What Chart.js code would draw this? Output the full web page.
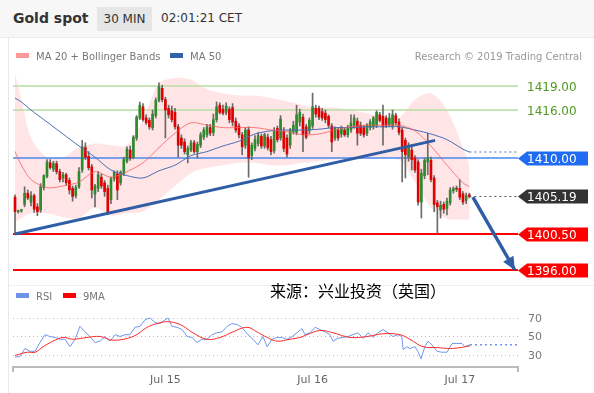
<!DOCTYPE html>
<html>
<head>
<meta charset="utf-8">
<script src="https://cdn.jsdelivr.net/npm/chart.js@4.4.1/dist/chart.umd.min.js"></script>
<style>
  body { margin: 0; width: 594px; height: 393px; overflow: hidden; background: #fff; position: relative; font-family: "DejaVu Sans", sans-serif; }
  #head { position: absolute; left: 0; top: 0; width: 594px; height: 37px; background: #f7f7f7; border-bottom: 1px solid #ececec; }
  #title { position: absolute; left: 13px; top: 10px; font-size: 14px; font-weight: bold; color: #333; }
  #tf { position: absolute; left: 97px; top: 7px; width: 55px; height: 24px; line-height: 24px; text-align: center; background: #e6e6e6; font-size: 12px; color: #333; }
  #clock { position: absolute; left: 161px; top: 11px; font-size: 12px; color: #333; }
  #frame { position: absolute; left: 8px; top: 38px; width: 0; height: 355px; border-left: 1px solid #e8e8e8; }
  #sep { position: absolute; left: 8px; top: 285px; width: 586px; height: 0; border-top: 1px solid #f0f0f0; }
  .leg { position: absolute; font-size: 10px; color: #777; line-height: 12px; }
  .sw { display: inline-block; width: 13px; height: 5px; margin-right: 7px; vertical-align: 2px; }
  #src { position: absolute; left: 270px; top: 280px; font-family: "Noto Sans CJK SC"; font-size: 16px; line-height: 20px; color: #000; }
  canvas { position: absolute; left: 0; }
</style>
</head>
<body>
<div id="head">
  <div id="title">Gold spot</div>
  <div id="tf">30 MIN</div>
  <div id="clock">02:01:21 CET</div>
</div>
<div id="frame"></div>
<div id="sep"></div>
<canvas id="main" width="594" height="245" style="top:40px"></canvas>
<canvas id="rsi" width="594" height="108" style="top:285px"></canvas>
<div class="leg" style="left:16px;top:51px"><span class="sw" style="background:#f99"></span>MA 20 + Bollinger Bands</div>
<div class="leg" style="left:170px;top:51px"><span class="sw" style="background:#3462aa"></span>MA 50</div>
<div class="leg" style="right:12px;top:51px;color:#999">Research © 2019 Trading Central</div>
<div class="leg" style="left:16px;top:291px"><span class="sw" style="background:#6f93ea"></span>RSI</div>
<div class="leg" style="left:63px;top:291px"><span class="sw" style="background:#f00"></span>9MA</div>
<div id="src">来源：兴业投资（英国）</div>
<script>
// 30 min candles, [open, high, low, close]
const ohlc = [
  [1405.1,1405.4,1400.5,1403.3],[1403.3,1403.5,1403.1,1403.4],[1403.4,1403.6,1403.2,1403.5],[1404.2,1406.4,1403.9,1405.6],
  [1405.6,1406.0,1404.8,1405.0],[1404.5,1405.8,1404.0,1405.3],[1405.3,1405.5,1403.2,1403.6],[1403.9,1404.3,1402.8,1403.3],
  [1403.5,1406.8,1403.2,1406.4],[1406.3,1407.9,1406.0,1407.8],[1407.7,1409.8,1407.5,1409.5],[1409.4,1409.8,1408.6,1408.8],
  [1408.6,1409.6,1408.3,1409.3],[1409.3,1409.6,1408.0,1408.3],[1408.3,1408.6,1407.0,1407.3],[1407.5,1408.2,1407.0,1407.9],
  [1407.9,1408.1,1406.6,1406.9],[1407.2,1407.5,1405.5,1406.0],[1406.2,1406.5,1404.6,1405.2],[1405.3,1406.6,1405.0,1406.3],
  [1406.4,1408.8,1406.2,1408.3],[1408.5,1412.2,1408.2,1411.4],[1411.3,1411.9,1409.8,1410.1],[1410.2,1410.8,1408.5,1408.8],
  [1408.9,1409.2,1405.0,1406.0],[1405.5,1406.7,1403.9,1406.5],[1406.2,1408.3,1405.8,1407.9],[1407.6,1408.0,1406.2,1406.5],
  [1406.9,1407.2,1405.2,1405.8],[1406.2,1406.6,1402.9,1403.3],[1404.8,1407.6,1404.3,1407.4],[1407.4,1408.4,1407.1,1408.2],
  [1408.0,1408.4,1404.8,1406.0],[1406.9,1408.4,1406.6,1408.2],[1408.0,1410.1,1407.8,1409.8],[1409.6,1411.4,1409.4,1411.1],
  [1411.0,1411.5,1409.7,1410.0],[1410.1,1412.8,1409.9,1412.6],[1412.5,1415.3,1412.2,1415.1],[1415.0,1417.0,1414.8,1416.6],
  [1416.4,1416.8,1414.6,1414.8],[1415.0,1415.4,1414.2,1414.4],[1414.7,1415.0,1413.6,1413.9],[1413.8,1416.0,1413.5,1415.5],
  [1415.3,1417.5,1415.0,1417.2],[1417.2,1419.4,1417.0,1418.9],[1418.7,1419.1,1417.0,1417.3],[1417.3,1417.6,1412.5,1416.0],
  [1416.2,1416.6,1415.0,1415.4],[1415.9,1416.5,1414.5,1414.8],[1415.7,1416.2,1413.6,1413.9],[1413.9,1414.2,1410.1,1411.6],
  [1412.5,1412.9,1411.2,1411.6],[1412.0,1412.4,1410.5,1410.8],[1410.4,1411.5,1409.4,1411.2],[1411.0,1412.2,1410.8,1411.9],
  [1411.9,1412.2,1410.6,1410.8],[1410.8,1412.0,1410.0,1411.7],[1411.6,1413.2,1411.3,1412.9],[1412.6,1413.8,1412.3,1413.5],
  [1412.9,1414.2,1412.6,1413.9],[1413.8,1414.2,1412.8,1413.1],[1413.2,1415.5,1412.8,1414.8],[1414.8,1417.0,1414.5,1416.4],
  [1416.6,1416.9,1415.5,1415.7],[1416.1,1416.6,1415.4,1415.6],[1415.7,1416.9,1415.4,1416.5],[1416.1,1416.4,1414.4,1414.8],
  [1416.3,1416.8,1414.0,1414.5],[1414.6,1415.0,1413.2,1413.5],[1414.0,1414.3,1412.5,1412.9],[1412.9,1413.2,1410.4,1411.4],
  [1411.6,1413.8,1411.2,1413.5],[1413.5,1413.9,1407.6,1410.0],[1410.3,1411.9,1409.8,1411.6],[1411.2,1412.8,1410.9,1412.3],
  [1411.8,1413.2,1411.5,1412.8],[1412.7,1413.0,1411.2,1411.5],[1411.5,1413.1,1411.2,1412.9],[1412.6,1413.0,1411.0,1411.3],
  [1412.3,1412.7,1410.4,1410.8],[1410.9,1413.8,1410.6,1413.3],[1413.7,1414.0,1412.0,1412.3],[1412.5,1415.3,1412.2,1414.9],
  [1413.3,1413.8,1410.8,1411.2],[1412.5,1412.9,1410.1,1410.5],[1411.6,1413.7,1411.2,1413.5],[1413.3,1414.6,1413.0,1414.1],
  [1413.2,1416.6,1412.9,1415.4],[1414.5,1416.1,1414.0,1415.7],[1415.1,1415.5,1410.8,1412.9],[1413.9,1414.2,1412.4,1412.6],
  [1413.4,1415.0,1413.0,1414.7],[1414.0,1418.1,1413.7,1416.4],[1416.2,1416.6,1415.1,1415.5],[1416.2,1416.5,1414.8,1415.1],
  [1415.8,1416.2,1414.7,1415.0],[1415.6,1416.0,1414.4,1414.8],[1415.2,1415.4,1413.8,1414.1],[1414.0,1414.3,1410.8,1412.0],
  [1412.5,1413.9,1412.2,1413.7],[1413.5,1413.8,1412.2,1412.5],[1413.0,1414.0,1412.6,1413.7],[1413.5,1413.8,1412.7,1412.9],
  [1412.9,1414.1,1412.6,1413.8],[1413.5,1415.4,1413.2,1414.4],[1414.0,1415.4,1413.7,1415.0],[1414.6,1415.0,1411.6,1413.1],
  [1414.1,1414.5,1412.8,1413.1],[1413.8,1414.1,1412.6,1412.9],[1413.1,1414.3,1412.8,1414.1],[1413.8,1414.8,1413.5,1414.5],
  [1413.9,1415.2,1413.6,1415.0],[1414.1,1415.9,1413.8,1415.7],[1415.4,1415.7,1414.5,1414.7],[1415.2,1416.6,1411.6,1413.9],
  [1415.0,1415.3,1413.8,1414.1],[1414.2,1415.6,1413.9,1415.0],[1413.9,1416.0,1413.6,1415.4],[1415.3,1415.6,1414.1,1414.4],
  [1414.5,1414.9,1412.9,1413.2],[1413.5,1413.8,1407.0,1410.8],[1412.2,1412.5,1407.5,1410.4],[1410.1,1411.9,1409.6,1411.6],
  [1411.0,1411.5,1408.5,1409.8],[1410.0,1410.3,1408.2,1408.5],[1409.5,1409.8,1404.1,1404.5],[1404.5,1408.6,1402.5,1408.1],
  [1407.8,1410.0,1407.4,1409.7],[1409.5,1413.1,1407.9,1410.0],[1409.7,1410.1,1407.0,1407.3],[1407.5,1407.8,1403.3,1404.2],
  [1404.4,1404.7,1400.6,1403.9],[1403.5,1404.6,1402.5,1404.1],[1404.2,1404.5,1403.1,1403.6],[1403.7,1405.0,1402.9,1404.6],
  [1404.4,1406.3,1404.1,1406.0],[1405.9,1406.4,1405.6,1406.2],[1406.2,1406.5,1405.8,1406.1],[1406.2,1407.3,1404.8,1405.1],
  [1405.5,1405.8,1404.2,1404.5],[1404.7,1405.6,1404.3,1405.3],[1405.4,1405.6,1405.0,1405.19]
];

// Bollinger bands / moving averages, read at these candle positions
const bandIdx   = [0,2,5,10,15,20,25,30,35,40,45,50,55,60,65,70,75,80,85,90,95,100,105,110,115,120,125,130,135,140,142];
const bandUpper = [1420.6,1417.3,1412.5,1410.1,1410.1,1411.3,1411.8,1411.6,1411.6,1414.8,1419.3,1420.0,1419.8,1418.6,1418.1,1417.8,1417.8,1417.5,1417.1,1416.6,1416.3,1416.3,1416.0,1415.6,1415.1,1415.0,1417.3,1418.1,1416.0,1411.3,1409.1];
const bandLower = [1402.0,1402.5,1403.1,1403.1,1402.6,1402.5,1403.8,1402.8,1403.1,1403.3,1404.8,1406.5,1408.1,1408.8,1409.1,1409.4,1409.4,1409.1,1409.1,1409.4,1409.6,1409.8,1409.8,1409.9,1410.0,1409.8,1407.0,1403.8,1402.4,1402.3,1402.3];
const ma20      = [1410.8,1409.1,1407.3,1406.3,1406.5,1407.0,1408.3,1407.6,1408.3,1409.4,1411.3,1413.1,1414.4,1414.1,1413.8,1413.8,1413.8,1413.5,1413.3,1412.9,1413.0,1413.5,1413.9,1414.1,1414.1,1414.1,1413.4,1411.5,1409.1,1406.9,1406.4];
const ma50      = [1417.5,1417.0,1416.0,1414.5,1413.0,1411.5,1410.1,1408.5,1407.8,1407.5,1408.4,1409.1,1410.3,1410.8,1411.5,1412.1,1413.0,1413.4,1413.5,1413.5,1413.6,1413.8,1413.8,1413.9,1413.9,1413.9,1413.5,1413.0,1412.3,1411.1,1410.75];

const resistance = [1419.00, 1416.00];
const pivot = 1410.00;
const supports = [1400.50, 1396.00];
const lastPrice = 1405.19;

const trendUp = [[0, 1400.5], [131.3, 1412.2]];
const arrowDown = [[143.1, 1405.1], [156.2, 1396.0]];

const dayTicks = [47, 93, 139];
const dayLabels = ['Jul 15', 'Jul 16', 'Jul 17'];

// RSI pane
const rsiIdx = [0,1.6,3.1,4.7,6.3,7.8,9.4,10.9,12.5,14.1,15.6,17.2,18.8,20.3,21.9,23.4,25,26.6,28.1,29.7,31.3,32.8,34.4,35.9,37.5,39.1,40.6,42.2,43.8,45.3,46.9,47.8,49.1,50.6,52.2,53.8,55.3,56.9,58.4,60,61.6,63.1,64.7,66.3,67.8,69.4,70.9,72.8,74.4,75.9,77.5,78.8,80.3,81.9,83.4,85,86.6,88.1,89.7,90.6,92.2,93.8,95.3,96.9,98.4,99.4,100.9,102.5,104.1,105.6,107.2,108.8,110.3,111.9,113.4,115,116.6,118.1,119.7,120.9,121.3,122.5,123.4,125,125.9,126.9,128.1,129.1,130.3,131.9,133.4,135,136.6,138.1,139.7,140.6,142.2];
const rsiVal = [27.6,28.6,37,34,34,43.5,52,50,49,47,47,39,47,61,55,50,43.5,45,50,45,52,50,52,52,60,61,68,70,65,64,68,70,61,60,57.5,50,49,43.5,47,47,52,54,55,61,64,63,60,52,47,41,50,39,47,49,49,47,50,54,58.5,52,54,60,57.5,55,52,45,48,49,50,52,54,48,54,49,54,57.5,54,50,52,50,36,39,37,39,34,26,39,45,41,34,33,33,42.5,42.5,42.5,39,41];
const rsiMaIdx = [0,3.8,6.3,8.8,11.9,15,18.1,22.5,26.6,30.6,36.9,41.3,44.4,47.5,51.6,55.6,60,64.1,68.1,72.5,75.6,78.8,81.9,85.9,89.1,91.3,95.3,99.4,104.7,110,115,120.3,123.4,127.5,131.9,135.9,139.1,142.2];
const rsiMaVal = [29.5,33,33,39,45,49,47,49,50,46,50,60,64,66,63,54,47,49,55,60,55,49,45,47,49,52,56.5,54,49,50,53,52,47,39,38,37,38,40];
const rsiLevels = [30, 50, 70];

const xMin = -0.625, xMax = 157.2;
const lastIdx = ohlc.length - 1;

Chart.defaults.font.family = '"DejaVu Sans", sans-serif';

const pts = (xs, ys) => xs.map((x, i) => ({ x: x, y: ys[i] }));
const flat = (v) => [{ x: xMin, y: v }, { x: xMax, y: v }];
const up = ohlc.map(d => d[3] >= d[0]);

const tags = [
  { v: resistance[0], fg: '#4f9a1e', bg: null },
  { v: resistance[1], fg: '#4f9a1e', bg: null },
  { v: pivot, fg: '#fff', bg: '#1f6cf2' },
  { v: lastPrice, fg: '#fff', bg: '#333' },
  { v: supports[0], fg: '#fff', bg: '#f00' },
  { v: supports[1], fg: '#fff', bg: '#f00' }
];

const tagPlugin = {
  id: 'tags',
  afterDatasetsDraw(chart) {
    const ctx = chart.ctx;
    const y = chart.scales.y;
    const x0 = chart.chartArea.right;
    ctx.save();
    ctx.font = '12px "DejaVu Sans"';
    ctx.textBaseline = 'middle';
    tags.forEach(t => {
      const py = Math.round(y.getPixelForValue(t.v)) + 0.5;
      if (t.bg) {
        ctx.fillStyle = t.bg;
        ctx.beginPath();
        ctx.moveTo(x0, py);
        ctx.lineTo(x0 + 9, py - 7);
        ctx.lineTo(x0 + 70, py - 7);
        ctx.lineTo(x0 + 70, py + 7);
        ctx.lineTo(x0 + 9, py + 7);
        ctx.closePath();
        ctx.fill();
      }
      ctx.fillStyle = t.fg;
      ctx.fillText(t.v.toFixed(2), x0 + 9, py + 1);
    });
    // arrow head on the projected move
    const meta = chart.getDatasetMeta(chart.data.datasets.findIndex(d => d.label === 'arrow'));
    const a = meta.data[0], b = meta.data[1];
    const ang = Math.atan2(b.y - a.y, b.x - a.x);
    ctx.fillStyle = '#2f5da6';
    ctx.beginPath();
    ctx.moveTo(b.x, b.y);
    ctx.lineTo(b.x - 13 * Math.cos(ang) + 6 * Math.sin(ang), b.y - 13 * Math.sin(ang) - 6 * Math.cos(ang));
    ctx.lineTo(b.x - 13 * Math.cos(ang) - 6 * Math.sin(ang), b.y - 13 * Math.sin(ang) + 6 * Math.cos(ang));
    ctx.closePath();
    ctx.fill();
    ctx.restore();
  }
};

// RSI level labels on the right of the lower pane
const rsiLabelPlugin = {
  id: 'rsiLabels',
  afterDraw(chart) {
    const ctx = chart.ctx;
    const y = chart.scales.y;
    ctx.save();
    ctx.font = '11px "DejaVu Sans"';
    ctx.fillStyle = '#777';
    ctx.textBaseline = 'middle';
    rsiLevels.forEach(v => ctx.fillText(String(v), chart.chartArea.right + 10, y.getPixelForValue(v) + 1));
    ctx.restore();
  }
};

const line = (data, color, width, order, extra) => Object.assign({
  type: 'line', data: data, borderColor: color, borderWidth: width,
  pointRadius: 0, fill: false, order: order, tension: 0
}, extra || {});

new Chart(document.getElementById('main'), {
  type: 'bar',
  data: {
    datasets: [
      line(pts(bandIdx, bandUpper), 'rgba(0,0,0,0)', 0, 20, { fill: '+1', backgroundColor: 'rgba(255,40,40,0.12)', tension: 0.3 }),
      line(pts(bandIdx, bandLower), 'rgba(0,0,0,0)', 0, 19, { tension: 0.3 }),
      line(flat(resistance[0]), '#b8dca2', 1.5, 15),
      line(flat(resistance[1]), '#b8dca2', 1.5, 15),
      line(flat(pivot), '#4d86ee', 1.5, 15),
      line(flat(supports[0]), '#f00', 2, 15),
      line(flat(supports[1]), '#f00', 2, 15),
      {
        label: 'wicks', order: 9, grouped: false, barThickness: 1, minBarLength: 1,
        data: ohlc.map((d, i) => ({ x: i, y: [d[2], d[1]] })),
        backgroundColor: '#6a6a6a'
      },
      {
        label: 'bodies', order: 8, grouped: false, barThickness: 2, minBarLength: 1,
        data: ohlc.map((d, i) => ({ x: i, y: [d[0], d[3]] })),
        backgroundColor: up.map(u => u ? '#2d8a2d' : '#e00000')
      },
      line(pts(bandIdx, ma20), 'rgba(245,90,90,0.75)', 1, 6, { tension: 0.3 }),
      line(pts(bandIdx, ma50), '#4b6fb5', 1, 6, { tension: 0.3 }),
      line([{ x: bandIdx[bandIdx.length - 1], y: ma50[ma50.length - 1] }, { x: xMax, y: ma50[ma50.length - 1] }], '#4b6fb5', 1, 6, { borderDash: [2, 3] }),
      line([{ x: lastIdx, y: lastPrice }, { x: xMax, y: lastPrice }], '#555', 1, 6, { borderDash: [2, 3] }),
      line(pts(trendUp.map(p => p[0]), trendUp.map(p => p[1])), '#2f5da6', 3, 2),
      line(pts(arrowDown.map(p => p[0]), arrowDown.map(p => p[1])), '#2f5da6', 3.5, 2, { label: 'arrow' })
    ]
  },
  options: {
    responsive: false,
    animation: false,
    layout: { padding: { left: 13, right: 76, top: 0, bottom: 0 } },
    plugins: { legend: { display: false }, tooltip: { enabled: false } },
    scales: {
      x: { type: 'linear', min: xMin, max: xMax, offset: false, display: false },
      y: { min: 1394.125, max: 1424.75, display: false }
    }
  },
  plugins: [tagPlugin]
});

new Chart(document.getElementById('rsi'), {
  type: 'line',
  data: {
    datasets: [
      line(pts(rsiIdx, rsiVal), '#7096ec', 1, 2),
      line(pts(rsiMaIdx, rsiMaVal), '#ff2a2a', 1, 1, { tension: 0.4 }),
      line([{ x: rsiIdx[rsiIdx.length - 1], y: rsiVal[rsiVal.length - 1] }, { x: xMax, y: rsiVal[rsiVal.length - 1] }], '#7096ec', 1.5, 2, { borderDash: [2, 3] })
    ]
  },
  options: {
    responsive: false,
    animation: false,
    layout: { padding: { left: 13, right: 0, top: 0, bottom: 0 } },
    plugins: { legend: { display: false }, tooltip: { enabled: false } },
    scales: {
      x: {
        type: 'linear', min: xMin, max: xMax, offset: false,
        afterBuildTicks: s => { s.ticks = [xMin].concat(dayTicks, [xMax]).map(v => ({ value: v })); },
        afterFit: s => { s.height = 26; },
        ticks: {
          autoSkip: false, maxRotation: 0, padding: 2, color: '#666', font: { size: 11 },
          callback: v => { const k = dayTicks.indexOf(v); return k < 0 ? '' : dayLabels[k]; }
        },
        grid: {
          drawOnChartArea: false, tickLength: 5, lineWidth: 2,
          color: c => (c.tick && dayTicks.indexOf(c.tick.value) >= 0) ? 'rgba(0,0,0,0)' : '#bbb'
        },
        border: { color: '#bbb', width: 2 }
      },
      y: {
        position: 'right', min: 17.03, max: 105.7,
        afterBuildTicks: s => { s.ticks = rsiLevels.map(v => ({ value: v })); },
        afterFit: s => { s.width = 76; },
        ticks: { display: false },
        grid: { color: '#bbb', drawTicks: false },
        border: { display: false, dash: [1, 3] }
      }
    }
  },
  plugins: [rsiLabelPlugin]
});
</script>
</body>
</html>
